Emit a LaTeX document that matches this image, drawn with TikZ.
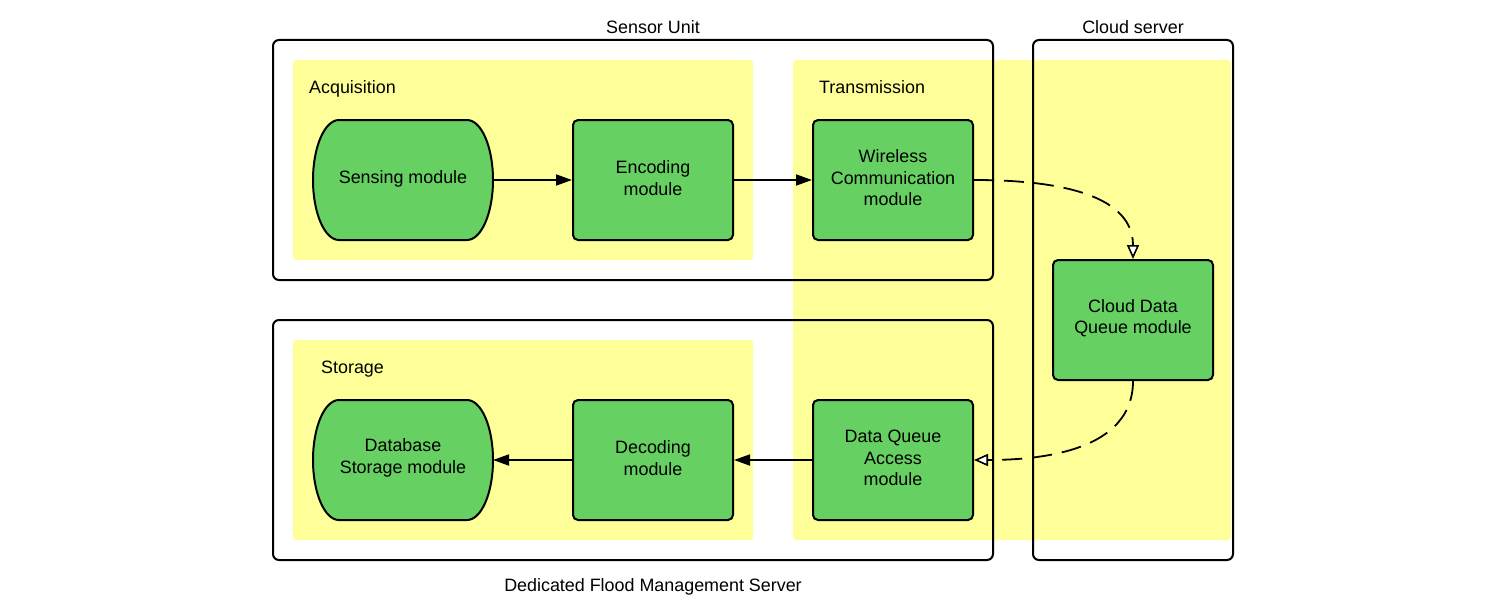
\documentclass[tikz,border=0pt]{standalone}
\usepackage{fontspec}
\setmainfont{Liberation Sans}
\usetikzlibrary{arrows.meta}
\definecolor{zonefill}{RGB}{255,255,153}
\definecolor{modfill}{RGB}{102,209,98}
\tikzset{
  every node/.style={font=\fontsize{17.9}{21.5}\selectfont, align=center},
  frame/.style={draw=black, line width=2pt, rounded corners=6pt},
  zone/.style={fill=zonefill, rounded corners=3pt},
  module/.style={draw=black, fill=modfill, line width=2pt, rounded corners=5pt,
    minimum width=160pt, minimum height=120pt, inner sep=2pt},
  pill/.style={minimum width=180pt, minimum height=120pt, inner sep=2pt, outer sep=0pt},
  label/.style={inner sep=0pt},
  flow/.style={line width=1.8pt, -{Triangle[length=16pt,width=11pt]}},
  link/.style={line width=1.8pt, dash pattern=on 20pt off 10pt,
    -{Triangle[length=14pt,width=12pt,fill=white,line width=1.6pt]}}
}
% flat-topped module with elliptical ends, drawn around a pill node
\newcommand{\pillshape}[1]{%
  \draw[line width=2pt, fill=modfill]
    ([xshift=26pt]#1.north west) -- ([xshift=-26pt]#1.north east)
    arc[start angle=90, end angle=-90, x radius=26pt, y radius=60pt]
    -- ([xshift=26pt]#1.south west)
    arc[start angle=270, end angle=90, x radius=26pt, y radius=60pt] -- cycle;}
\begin{document}
\begin{tikzpicture}[x=1pt,y=1pt]
\useasboundingbox (0,0) rectangle (1506,-610);

% outer frames: white background first
\fill[white, rounded corners=6pt] (273,-40) rectangle (993,-280);
\fill[white, rounded corners=6pt] (273,-320) rectangle (993,-560);
\fill[white, rounded corners=6pt] (1033,-40) rectangle (1233,-560);

% functional zones
\fill[zone] (293,-60) rectangle (753,-260);
\fill[zone] (293,-340) rectangle (753,-540);
\fill[zone] (793,-60) rectangle (1231,-540);

% frame outlines
\draw[frame] (273,-40) rectangle (993,-280);
\draw[frame] (273,-320) rectangle (993,-560);
\draw[frame] (1033,-40) rectangle (1233,-560);

% frame and zone titles
\node[label] (tsensor) at (653,-27) {Sensor Unit};
\node[label] (tcloud) at (1133,-27) {Cloud server};
\node[label] (tserver) at (653,-587) {Dedicated Flood Management Server};
\node[label, anchor=base west] (tacq) at (309,-93) {Acquisition};
\node[label, anchor=base west] (ttrans) at (819,-93) {Transmission};
\node[label, anchor=base west] (tstore) at (321,-373) {Storage};

% modules
\node[pill] (sens) at (403,-180) {};
\pillshape{sens}
\node (senstext) at (403,-179) {Sensing module};
\node[module] (enc) at (653,-180) {};
\node (enctext) at (653,-178) {Encoding\\module};
\node[module] (wire) at (893,-180) {};
\node (wiretext) at (893,-178) {Wireless\\Communication\\module};
\node[module] (cdq) at (1133,-320) {};
\node (cdqtext) at (1133,-318) {Cloud Data\\Queue module};
\node[module] (dqa) at (893,-460) {};
\node (dqatext) at (893,-458) {Data Queue\\Access\\module};
\node[module] (dec) at (653,-460) {};
\node (dectext) at (653,-458) {Decoding\\module};
\node[pill] (db) at (403,-460) {};
\pillshape{db}
\node (dbtext) at (403,-458) {Database\\Storage module};

% connectors
\draw[flow] (sens) -- (enc);
\draw[flow] (enc) -- (wire);
\draw[flow] (dqa) -- (dec);
\draw[flow] (dec) -- (db);
\draw[link] (wire.east) to[out=0, in=90] (cdq.north);
\draw[link] (cdq.south) to[out=-90, in=0] (dqa.east);
\end{tikzpicture}
\end{document}
